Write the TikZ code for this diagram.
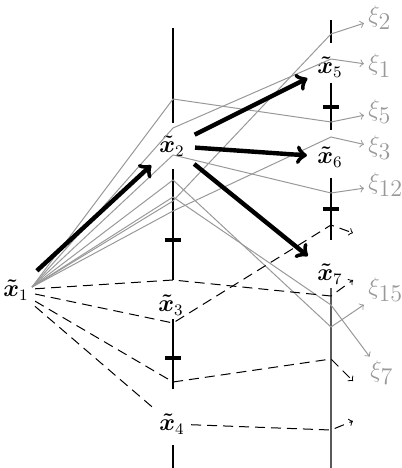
\documentclass[tikz,border=0pt]{standalone}
\usepackage{amsmath}
\usepackage{color}
\usepackage{tikz}

\definecolor{paleline}{gray}{0.6}

\begin{document}
\begin{tikzpicture}
[x=0.5pt,y=-0.5pt,
 every node/.style={font=\fontsize{12}{14}\selectfont,inner sep=3pt},
 axis/.style={line width=0.6pt},
 barmark/.style={line width=2pt},
 fan/.style={paleline,line width=0.5pt,->},
 hop/.style={line width=2.2pt,->,shorten <=2pt,shorten >=2pt},
 guess/.style={line width=0.5pt,dash pattern=on 5pt off 3pt,->},
 xilabel/.style={paleline,anchor=west,inner sep=2pt}]
\useasboundingbox (0,0) rectangle (402,468);

% the two time lines
\foreach \a/\b in {28/123,169/280,319/389,445/468}
	\draw[axis] (173,\a) -- (173,\b);
\foreach \a/\b in {20/43,83/130,178/240}
	\draw[axis] (331,\a) -- (331,\b);
\draw[axis,black!65] (331,288) -- (331,468);
\foreach \y in {240,358}
	\draw[barmark] (165,\y) -- (181,\y);
\foreach \y in {107,209}
	\draw[barmark] (323,\y) -- (339,\y);

% states
\node (x1) at (16,290) {$\boldsymbol{\tilde x}_1$};
\node (x2) at (172,146) {$\boldsymbol{\tilde x}_2$};
\node (x3) at (171,305) {$\boldsymbol{\tilde x}_3$};
\node (x4) at (172,424) {$\boldsymbol{\tilde x}_4$};
\node (x5) at (330,67) {$\boldsymbol{\tilde x}_5$};
\node (x6) at (330,157) {$\boldsymbol{\tilde x}_6$};
\node (x7) at (330,274) {$\boldsymbol{\tilde x}_7$};

% noise labels
\node[xilabel] (xi2) at (364,18) {$\xi_{\textstyle 2}$};
\node[xilabel] (xi1) at (364,66) {$\xi_{\textstyle 1}$};
\node[xilabel] (xi5) at (364,112) {$\xi_{\textstyle 5}$};
\node[xilabel] (xi3) at (364,148) {$\xi_{\textstyle 3}$};
\node[xilabel] (xi12) at (364,185) {$\xi_{\textstyle 12}$};
\node[xilabel] (xi15) at (364,290) {$\xi_{\textstyle 15}$};
\node[xilabel] (xi7) at (366,373) {$\xi_{\textstyle 7}$};

% gray fan
\coordinate (fan) at (32,287);
\coordinate (l5) at (173,99);   \coordinate (r5) at (331,122);
\coordinate (l1) at (173,128);  \coordinate (r1) at (331,59);
\coordinate (l12) at (173,155); \coordinate (r12) at (331,193);
\coordinate (l15) at (173,180); \coordinate (r15) at (331,327);
\coordinate (l7) at (173,197);  \coordinate (r7) at (331,305);
\coordinate (l2) at (173,201);  \coordinate (r2) at (331,34);
\coordinate (l3) at (173,211);  \coordinate (r3) at (331,137);
\foreach \k in {1,2,3,5,7,12,15}
	\draw[fan] (fan) -- (l\k) -- (r\k) -- (xi\k);

% dashed alternatives
\coordinate (m1) at (173,280); \coordinate (n1) at (331,296); \coordinate (d1) at (353,280);
\coordinate (m2) at (173,323); \coordinate (n2) at (331,225); \coordinate (d2) at (353,233);
\coordinate (m3) at (173,382); \coordinate (n3) at (331,359); \coordinate (d3) at (353,381);
\coordinate (n4) at (331,430); \coordinate (d4) at (353,421);
\foreach \k in {1,2,3}
	\draw[guess] (x1) -- (m\k) -- (n\k) -- (d\k);
\draw[guess] (x1) -- (x4) -- (n4) -- (d4);

% chosen moves
\foreach \from/\to in {x1/x2,x2/x5,x2/x6,x2/x7}
	\draw[hop] (\from) -- (\to);
\end{tikzpicture}
\end{document}
